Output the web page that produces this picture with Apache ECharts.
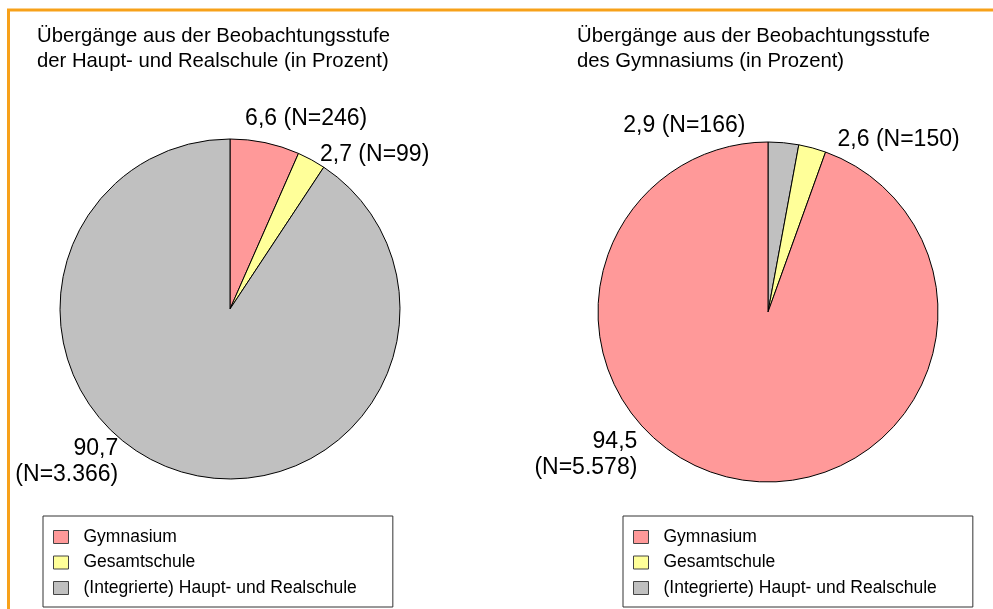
<!DOCTYPE html>
<html>
<head>
<meta charset="utf-8">
<script src="https://cdn.jsdelivr.net/npm/echarts@6/dist/echarts.min.js"></script>
<style>
  html, body { margin: 0; padding: 0; background: #fff; }
  #main { width: 993px; height: 609px; }
</style>
</head>
<body>
<div id="main"></div>
<script>
// Schularten (Legende)
var categories = ['Gymnasium', 'Gesamtschule', '(Integrierte) Haupt- und Realschule'];
var colors = ['#ff9999', '#ffff99', '#c0c0c0'];

// linke Grafik: Haupt- und Realschule
var leftTitle = 'Übergänge aus der Beobachtungsstufe\nder Haupt- und Realschule (in Prozent)';
var leftNames = ['Gymnasium', 'Gesamtschule', '(Integrierte) Haupt- und Realschule'];
var leftPct = [6.6, 2.7, 90.7];
var leftN = [246, 99, 3366];

// rechte Grafik: Gymnasium
var rightTitle = 'Übergänge aus der Beobachtungsstufe\ndes Gymnasiums (in Prozent)';
var rightNames = ['(Integrierte) Haupt- und Realschule', 'Gesamtschule', 'Gymnasium'];
var rightPct = [2.9, 2.6, 94.5];
var rightN = [166, 150, 5578];

// Verschiebung der Beschriftungen gegenüber der Standardlage
var labelShift = [
	[[-29, -4], [-6, 12], [-52, -29]],
	[[-167, 3], [15, 11], [-93, -45]]
];

var font = '"Liberation Sans", Arial, sans-serif';

function fmtN(n) {
	return String(n).replace(/\B(?=(\d{3})+(?!\d))/g, '.');
}

function buildData(names, pct, n) {
	var max = Math.max.apply(null, pct);
	return names.map(function(name, i) {
		var txt = pct[i].toFixed(1).replace('.', ',') + (pct[i] === max ? '\n' : ' ') + '(N=' + fmtN(n[i]) + ')';
		return {
			name: name,
			value: pct[i],
			label: { formatter: txt },
			itemStyle: { color: colors[categories.indexOf(name)] }
		};
	});
}

function pieSeries(center, data) {
	return {
		type: 'pie',
		center: center,
		radius: 170,
		startAngle: 90,
		clockwise: true,
		avoidLabelOverlap: false,
		silent: true,
		animation: false,
		itemStyle: { borderColor: '#000', borderWidth: 1 },
		label: {
			position: 'outside',
			fontFamily: font,
			fontSize: 23,
			lineHeight: 26,
			color: '#000'
		},
		labelLine: { show: false, length: 20, length2: 0 },
		labelLayout: function(p) {
			var s = labelShift[p.seriesIndex][p.dataIndex];
			return { dx: s[0], dy: s[1] };
		},
		emphasis: { disabled: true },
		data: data
	};
}

function legendAt(left) {
	return {
		orient: 'vertical',
		left: left,
		top: 516,
		height: 300,
		padding: [12, 36, 10, 10],
		icon: 'rect',
		itemWidth: 15,
		itemHeight: 13,
		itemGap: 7.5,
		borderColor: '#333',
		borderWidth: 1,
		backgroundColor: '#fff',
		selectedMode: false,
		textStyle: { fontFamily: font, fontSize: 17.5, lineHeight: 14, color: '#000', padding: [0, 0, 0, 10] },
		itemStyle: { borderColor: '#444', borderWidth: 1 },
		data: categories
	};
}

var chart = echarts.init(document.getElementById('main'));
chart.setOption({
	backgroundColor: '#fff',
	animation: false,
	graphic: [{
		type: 'rect',
		shape: { x: 8.5, y: 10, width: 1200, height: 800 },
		style: { fill: 'none', stroke: '#f7a11a', lineWidth: 3 },
		silent: true
	}],
	title: [{
		text: leftTitle,
		left: 37,
		top: 24,
		padding: 0,
		textStyle: { fontFamily: font, fontSize: 20.3, lineHeight: 25, fontWeight: 'normal', color: '#000' }
	}, {
		text: rightTitle,
		left: 577,
		top: 24,
		padding: 0,
		textStyle: { fontFamily: font, fontSize: 20.3, lineHeight: 25, fontWeight: 'normal', color: '#000' }
	}],
	legend: [legendAt(43), legendAt(623)],
	series: [
		pieSeries([230, 309], buildData(leftNames, leftPct, leftN)),
		pieSeries([768, 312], buildData(rightNames, rightPct, rightN))
	]
});
</script>
</body>
</html>
